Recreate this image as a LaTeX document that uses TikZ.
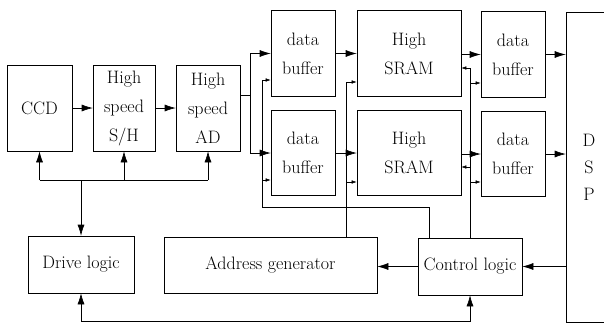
\documentclass[tikz,border=0pt]{standalone}
\usetikzlibrary{arrows.meta}
\tikzset{
  blk/.style={draw,line width=0.6pt,align=center,inner sep=0pt,
    font=\fontsize{18}{29}\selectfont},
  bigar/.style={line width=0.6pt,-{Latex[length=11pt,width=7pt]}},
  smar/.style={line width=0.5pt,-{Latex[length=5pt,width=3.5pt]}},
  wire/.style={line width=0.5pt}
}
\begin{document}
\begin{tikzpicture}[x=1pt,y=-1pt]
\useasboundingbox (0,0) rectangle (604,324);
% front end
\node[blk,minimum width=65pt,minimum height=86pt] (ccd) at (39.5,108) {CCD};
\node[blk,minimum width=62pt,minimum height=86pt] (sh) at (124,108) {High\\speed\\S/H};
\node[blk,minimum width=64pt,minimum height=86pt] (ad) at (208,108) {High\\speed\\AD};
% buffers and memories
\node[blk,minimum width=64pt,minimum height=86pt] (buf1) at (303,53.5) {data\\buffer};
\node[blk,minimum width=64pt,minimum height=85pt] (buf2) at (303,153) {data\\buffer};
\node[blk,minimum width=104pt,minimum height=86pt] (sram1) at (409,53.5) {High\\SRAM};
\node[blk,minimum width=104pt,minimum height=85pt] (sram2) at (409,153) {High\\SRAM};
\node[blk,minimum width=64pt,minimum height=86pt] (obuf1) at (513,54.5) {data\\buffer};
\node[blk,minimum width=64pt,minimum height=85pt] (obuf2) at (513,154) {data\\buffer};
\node[blk,minimum width=46pt,minimum height=310pt,font=\fontsize{18}{27}\selectfont] (dsp) at (589,167) {D\\S\\P};
% logic row
\node[blk,minimum width=106pt,minimum height=57pt] (drive) at (81,264.5) {Drive logic};
\node[blk,minimum width=213pt,minimum height=56pt] (addr) at (270.5,265) {Address generator};
\node[blk,minimum width=104pt,minimum height=57pt] (ctrl) at (470,266.5) {Control logic};

% data path
\draw[bigar] (ccd) -- (sh);
\draw[bigar] (sh) -- (ad);
\coordinate (split) at (250,95);
\draw[wire] (ad.east |- split) -- (split);
\draw[bigar] (split) |- (buf1.west);
\draw[bigar] (split) |- (buf2.west);
\draw[bigar] (buf1) -- (sram1);
\draw[bigar] (buf2) -- (sram2);
\draw[bigar] (sram1.east |- obuf1.west) -- (obuf1.west);
\draw[bigar] (sram2.east |- obuf2.west) -- (obuf2.west);
\foreach \b in {obuf1,obuf2}
  \draw[bigar] (\b.east) -- (\b.east -| dsp.west);

% timing bus
\coordinate (bus) at (81,180);
\draw[wire] (ccd.south |- bus) -- (ad.south |- bus);
\foreach \b in {ccd,sh,ad}
  \draw[bigar] (\b.south |- bus) -- (\b.south);
\draw[bigar] (bus) -- (drive.north);
\coordinate (low) at (81,321);
\draw[bigar] (low) -- (drive.south);
\draw[bigar] (low) -| (ctrl.south);

% control lines
\draw[bigar] (dsp.west |- ctrl.east) -- (ctrl.east);
\draw[bigar] (ctrl.west) -- (addr.east |- ctrl.west);
\coordinate (lc) at (262,207);
\draw[wire] ([xshift=-41pt]ctrl.north) |- (lc) -- (lc |- 0,80);
\draw[smar] (lc |- 0,80) -- (buf1.west |- 0,80);
\draw[smar] (lc |- 0,180) -- (buf2.west |- 0,180);
\coordinate (ac) at (346,82);
\draw[wire] (addr.north -| ac) -- (ac);
\draw[smar] (ac) -- (sram1.west |- ac);
\draw[smar] (ac |- 0,182) -- (sram2.west |- 0,182);
\coordinate (rc) at (470,68);
\draw[wire] (ctrl.north) -- (rc);
\draw[smar] (rc) -- (sram1.east |- rc);
\draw[smar] (rc |- 0,83) -- (obuf1.west |- 0,83);
\draw[smar] (rc |- 0,167) -- (sram2.east |- 0,167);
\draw[smar] (rc |- 0,182) -- (obuf2.west |- 0,182);
\end{tikzpicture}
\end{document}
